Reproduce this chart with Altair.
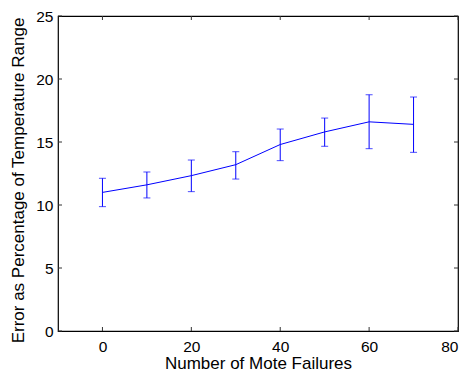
import altair as alt
import pandas as pd

failures = [0, 10, 20, 30, 40, 50, 60, 70]
mean_err = [11.0, 11.6, 12.33, 13.2, 14.8, 15.8, 16.6, 16.4]
lower_err = [9.87, 10.56, 11.06, 12.06, 13.52, 14.66, 14.47, 14.18]
upper_err = [12.12, 12.62, 13.57, 14.23, 16.03, 16.9, 18.75, 18.57]

x_ticks = [0, 20, 40, 60, 80]
y_ticks = [0, 5, 10, 15, 20, 25]

W, H = 400, 315
FONT = "Liberation Sans"
BLUE = "#0000ff"
TICK = "#333333"

df = pd.DataFrame({"x": failures, "y": mean_err, "lo": lower_err, "hi": upper_err})
dfx = pd.DataFrame({"x": x_ticks})
dfy = pd.DataFrame({"y": y_ticks})

xscale = alt.Scale(domain=[-10, 80], nice=False, zero=False)
yscale = alt.Scale(domain=[0, 25], nice=False, zero=False)

xaxis = alt.Axis(values=x_ticks, ticks=False, domain=False, grid=False,
                 labelPadding=8, labelFontSize=15.5, labelFont=FONT, labelColor="black",
                 title="Number of Mote Failures", titleFont=FONT, titleFontSize=17,
                 titleFontWeight="normal", titleColor="black",
                 titleBaseline="alphabetic", titleY=37, titleX=W / 2)
yaxis = alt.Axis(values=y_ticks, ticks=False, domain=False, grid=False,
                 labelPadding=5, labelFontSize=15.5, labelFont=FONT, labelColor="black",
                 title="Error as Percentage of Temperature Range", titleFont=FONT,
                 titleFontSize=17, titleFontWeight="normal", titleColor="black",
                 titleAngle=270, titleBaseline="alphabetic", titleX=-34.5, titleY=164)

X = alt.X("x:Q", scale=xscale, axis=xaxis)
Y = alt.Y("y:Q", scale=yscale, axis=yaxis)

base = alt.Chart(df)
line = base.mark_line(color=BLUE, strokeWidth=1).encode(x=X, y=Y)
bars = base.mark_rule(color=BLUE, strokeWidth=1).encode(
    x=X, y=alt.Y("lo:Q", scale=yscale, axis=yaxis), y2="hi:Q")
cap_hi = base.mark_tick(color=BLUE, orient="horizontal", size=7, thickness=1).encode(
    x=X, y=alt.Y("hi:Q", scale=yscale, axis=yaxis))
cap_lo = base.mark_tick(color=BLUE, orient="horizontal", size=7, thickness=1).encode(
    x=X, y=alt.Y("lo:Q", scale=yscale, axis=yaxis))

tb = alt.Chart(dfx).mark_rule(color=TICK, strokeWidth=1).encode(
    x=X, y=alt.value(H), y2=alt.value(H - 4))
tt = alt.Chart(dfx).mark_rule(color=TICK, strokeWidth=1).encode(
    x=X, y=alt.value(0), y2=alt.value(4))
tl = alt.Chart(dfy).mark_rule(color=TICK, strokeWidth=1).encode(
    y=Y, x=alt.value(0), x2=alt.value(4))
tr = alt.Chart(dfy).mark_rule(color=TICK, strokeWidth=1).encode(
    y=Y, x=alt.value(W), x2=alt.value(W - 4))

chart = alt.layer(tb, tt, tl, tr, bars, cap_hi, cap_lo, line).properties(
    width=W, height=H,
    autosize=alt.AutoSizeParams(type="none"),
    padding={"left": 50, "top": 8, "right": 6, "bottom": 40},
    background="white",
).configure_view(stroke="black", strokeWidth=1.2)

chart.save("out.html", embed_options={"renderer": "svg", "actions": False})
